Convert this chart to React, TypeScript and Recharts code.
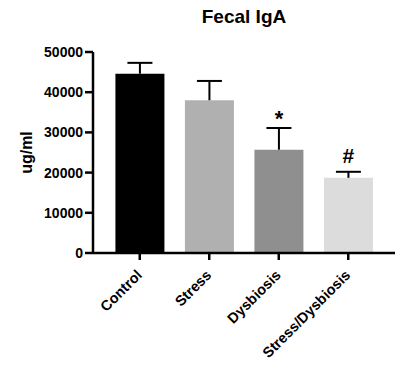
import React from 'react'
import { BarChart, Bar, XAxis, YAxis, Cell, LabelList } from 'recharts'

const groups = ['Control', 'Stress', 'Dysbiosis', 'Stress/Dysbiosis']
const means = [44600, 38000, 25700, 18700]
const sem = [2700, 4800, 5400, 1500]
const marks = ['', '', '*', '#']
const fills = ['#000000', '#b0b0b0', '#8f8f8f', '#dcdcdc']
const yTicks = [0, 10000, 20000, 30000, 40000, 50000]

const data = groups.map((g, i) => ({ name: g, value: means[i], err: sem[i], mark: marks[i] }))

const font = '"Liberation Sans", Arial, sans-serif'

function CategoryTick(props: any) {
  const { x, y, payload } = props
  return (
    <g transform={`translate(${x + 3},${y + 14})`}>
      <text
        x={0}
        y={0}
        textAnchor="end"
        transform="rotate(-45)"
        fontFamily={font}
        fontWeight="bold"
        fontSize={14.5}
        fill="#000"
      >
        {payload.value}
      </text>
    </g>
  )
}

// upper-only error bar, drawn on the stacked segment mean..mean+sem
function ErrorShape(props: any) {
  const { x, y, width, height } = props
  const cx = x + width / 2
  return (
    <g stroke="#000" strokeWidth={2}>
      <line x1={cx} y1={y} x2={cx} y2={y + height} />
      <line x1={cx - 12.5} y1={y} x2={cx + 12.5} y2={y} />
    </g>
  )
}

function MarkLabel(props: any) {
  const { x, y, width, value } = props
  if (!value) return null
  const star = value === '*'
  return (
    <text
      x={x + width / 2}
      y={y - (star ? 2 : 9)}
      textAnchor="middle"
      fontFamily={font}
      fontWeight="bold"
      fontSize={star ? 22 : 21}
      fill="#000"
    >
      {value}
    </text>
  )
}

export default function App() {
  return (
    <div style={{ position: 'absolute', left: 0, top: 0, width: 419, height: 371, background: '#fff' }}>
      <div
        style={{
          position: 'absolute',
          left: 0,
          top: 6,
          width: 488,
          textAlign: 'center',
          fontFamily: font,
          fontWeight: 'bold',
          fontSize: 19,
        }}
      >
        Fecal IgA
      </div>
      <BarChart
        width={419}
        height={371}
        data={data}
        margin={{ top: 52, right: 24, left: 0, bottom: 0 }}
        barCategoryGap="15%"
      >
        <XAxis
          dataKey="name"
          interval={0}
          axisLine={{ stroke: '#000', strokeWidth: 2.5 }}
          tickLine={{ stroke: '#000', strokeWidth: 2.5 }}
          tickSize={7}
          padding={{ left: 12, right: 12 }}
          tick={<CategoryTick />}
          height={118}
        />
        <YAxis
          width={93}
          domain={[0, 50000]}
          ticks={yTicks}
          interval={0}
          axisLine={{ stroke: '#000', strokeWidth: 2.5 }}
          tickLine={{ stroke: '#000', strokeWidth: 2.5 }}
          tickSize={8}
          tickMargin={2}
          tick={{ fill: '#000', fontFamily: font, fontWeight: 'bold', fontSize: 14 }}
          label={{
            value: 'ug/ml',
            angle: -90,
            position: 'insideLeft',
            offset: 26,
            style: { fill: '#000', fontFamily: font, fontWeight: 'bold', fontSize: 16, textAnchor: 'middle' },
          }}
        />
        <Bar dataKey="value" stackId="a" isAnimationActive={false}>
          {data.map((d, i) => (
            <Cell key={d.name} fill={fills[i]} />
          ))}
        </Bar>
        <Bar dataKey="err" stackId="a" shape={<ErrorShape />} isAnimationActive={false}>
          <LabelList dataKey="mark" content={<MarkLabel />} />
        </Bar>
      </BarChart>
    </div>
  )
}
